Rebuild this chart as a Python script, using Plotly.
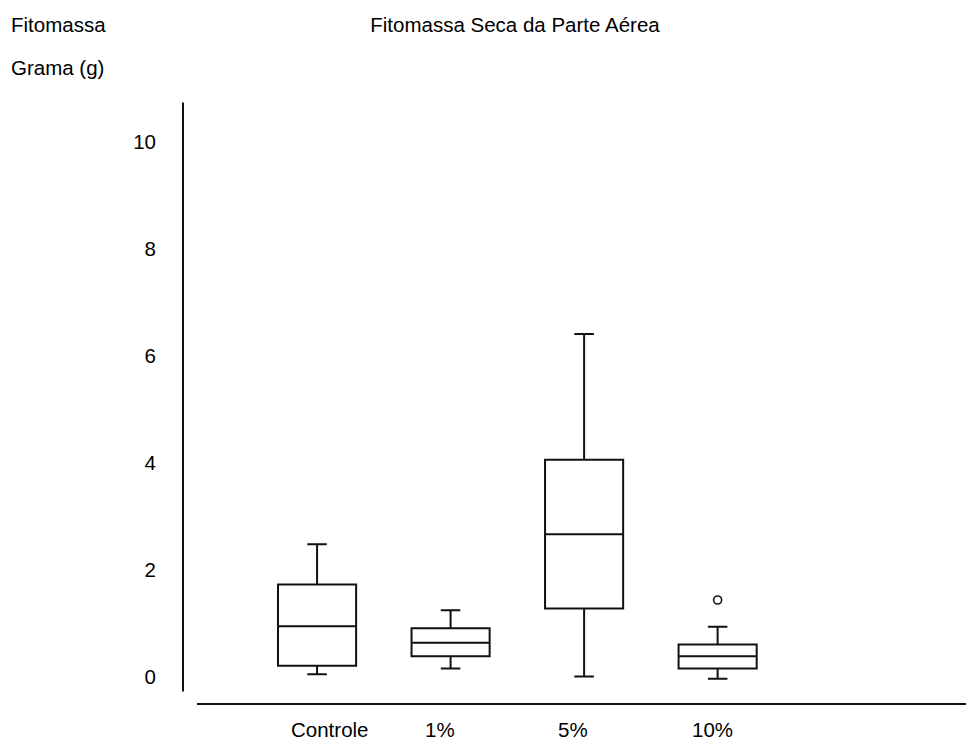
import plotly.graph_objects as go

# ---- data ----
categories = ["Controle", "1%", "5%", "10%"]
lower_whisker = [0.04, 0.15, 0.00, -0.04]
q1_values = [0.20, 0.38, 1.27, 0.15]
medians = [0.94, 0.63, 2.66, 0.38]
q3_values = [1.72, 0.90, 4.05, 0.60]
upper_whisker = [2.47, 1.24, 6.40, 0.93]
outlier_categories = ["10%"]
outlier_values = [1.43]
y_tick_values = [0, 2, 4, 6, 8, 10]
y_tick_labels = ["0", "2", "4", "6", "8", "10"]

title_text = "Fitomassa Seca da Parte Aérea"
y_title_line1 = "Fitomassa"
y_title_line2 = "Grama (g)"

FONT = "Liberation Sans, Arial, sans-serif"
FS = 20.5
INK = "#111111"

# the page body adds an 8px margin, so the figure is drawn 8px in from the corner
OFF = 8
W, H = 974 - OFF, 742 - OFF
PLOT_L, PLOT_R, PLOT_T, PLOT_B = 183, 974, 100, 704  # page pixels
PW, PH = PLOT_R - PLOT_L, PLOT_B - PLOT_T


def px(x):  # page pixel -> paper x
    return (x - PLOT_L) / PW


def py(y):  # page pixel -> paper y
    return (PLOT_B - y) / PH


fig = go.Figure()

for i, cat in enumerate(categories):
    fig.add_trace(go.Box(
        x=[cat],
        q1=[q1_values[i]],
        median=[medians[i]],
        q3=[q3_values[i]],
        lowerfence=[lower_whisker[i]],
        upperfence=[upper_whisker[i]],
        width=0.585,
        whiskerwidth=0.25,
        fillcolor="white",
        line=dict(color=INK, width=2),
        boxpoints=False,
        showlegend=False,
        hoverinfo="skip",
    ))

fig.add_trace(go.Scatter(
    x=outlier_categories,
    y=outlier_values,
    mode="markers",
    marker=dict(symbol="circle-open", size=8, color=INK, line=dict(width=1.6, color=INK)),
    showlegend=False,
    hoverinfo="skip",
))

annotations = []
for cat in categories:
    annotations.append(dict(
        x=cat, xref="x", y=py(729), yref="paper",
        text=cat, showarrow=False, xanchor="left", yanchor="middle",
        xshift=-28, font=dict(family=FONT, size=FS, color="black"),
    ))

annotations.append(dict(
    x=px(9), xref="paper", y=py(25), yref="paper",
    text=y_title_line1, showarrow=False, xanchor="left", yanchor="middle",
    font=dict(family=FONT, size=FS, color="black"),
))
annotations.append(dict(
    x=px(9), xref="paper", y=py(68), yref="paper",
    text=y_title_line2, showarrow=False, xanchor="left", yanchor="middle",
    font=dict(family=FONT, size=FS, color="black"),
))

shapes = [
    dict(type="line", xref="paper", yref="paper", x0=0, x1=0,
         y0=py(691.5), y1=py(102.5), line=dict(color=INK, width=2)),
    dict(type="line", xref="paper", yref="paper", x0=px(197), x1=1,
         y0=0, y1=0, line=dict(color=INK, width=2)),
]

fig.update_layout(
    width=W, height=H,
    margin=dict(l=PLOT_L - OFF, r=0, t=PLOT_T - OFF, b=742 - PLOT_B),
    paper_bgcolor="white", plot_bgcolor="white",
    title=dict(text=title_text, x=(515 - OFF) / W, xanchor="center", xref="container",
               y=1 - (25 - OFF) / H, yanchor="middle", yref="container",
               font=dict(family=FONT, size=FS, color="black")),
    xaxis=dict(type="category", categoryorder="array", categoryarray=categories,
               range=[-1.004, 4.92], showgrid=False, zeroline=False, showline=False,
               showticklabels=False, ticks=""),
    yaxis=dict(range=[-0.514, 10.776], tickvals=y_tick_values, ticktext=y_tick_labels,
               showgrid=False, zeroline=False, showline=False, ticks="",
               ticklabelstandoff=26,
               tickfont=dict(family=FONT, size=FS, color="black")),
    annotations=annotations,
    shapes=shapes,
    showlegend=False,
)

fig.write_html("out.html")
